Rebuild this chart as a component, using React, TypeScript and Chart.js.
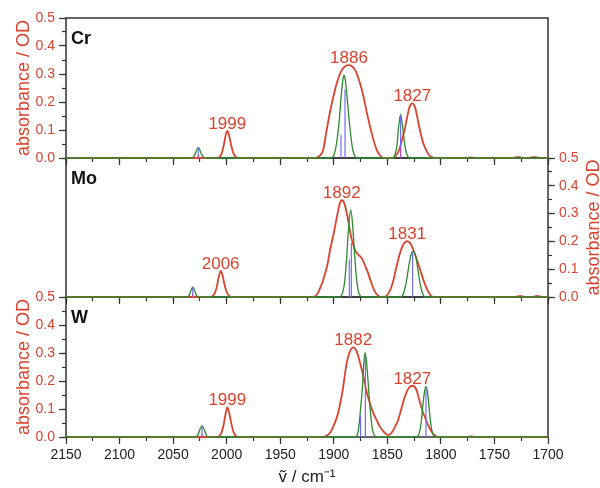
import React, { useEffect, useRef } from 'react';
import { Chart, registerables } from 'chart.js';

Chart.register(...registerables);

const FONT = '"Liberation Sans", Arial, Helvetica, sans-serif';
const RED = '#d9432f';
const GREEN = '#2e8b2e';
const BLUE = '#6e6ef2';
const PURPLE = '#b050c0';
const AXIS = '#333333';

const NU_MIN = 1700;
const NU_MAX = 2150;
const X_MAJOR = 50;
const X_MINOR = 25;
const Y_MIN = 0;
const Y_MAX = 0.5;
const Y_MAJOR = 0.1;
const Y_MINOR = 0.05;

const Y_TITLE = 'absorbance / OD';
const X_TITLE = 'ṽ / cm⁻¹';

// ---------- Cr ----------
const crRedNu = [2150, 2010, 2007, 2005, 2003, 2001, 1999.4, 1998, 1996, 1994, 1992, 1990, 1987,
  1918, 1914, 1911.5, 1909.8, 1907.3, 1903.5, 1900, 1897, 1892, 1886, 1880, 1875.5, 1872, 1869.3, 1864.6, 1860, 1857, 1853.5,
  1846, 1843, 1840, 1838, 1836, 1834, 1831, 1829, 1826.7, 1824, 1822, 1819.5, 1817, 1814, 1811, 1808, 1805,
  1776, 1772, 1768, 1732, 1728, 1724, 1717, 1713, 1709, 1700];
const crRedAbs = [0, 0, 0.003, 0.013, 0.04, 0.08, 0.097, 0.085, 0.05, 0.02, 0.006, 0.001, 0,
  0, 0.005, 0.015, 0.03, 0.085, 0.165, 0.225, 0.27, 0.317, 0.332, 0.314, 0.267, 0.215, 0.165, 0.088, 0.03, 0.01, 0,
  0, 0.005, 0.02, 0.04, 0.07, 0.098, 0.155, 0.185, 0.195, 0.18, 0.145, 0.098, 0.06, 0.03, 0.01, 0.002, 0,
  0, 0.002, 0, 0, 0.004, 0, 0, 0.004, 0, 0];
const crGreenNu = [2150, 2033, 2031, 2029, 2027.5, 2026.5, 2025.5, 2024, 2022, 2020,
  1903, 1900, 1897.5, 1895, 1893, 1891.5, 1890.5, 1889.5, 1888, 1886, 1884, 1882, 1880, 1878,
  1845, 1843, 1841, 1839.5, 1837.6, 1836, 1834, 1832, 1830, 1828, 1700];
const crGreenAbs = [0, 0, 0.004, 0.018, 0.033, 0.037, 0.033, 0.018, 0.004, 0,
  0, 0.01, 0.05, 0.13, 0.225, 0.28, 0.296, 0.285, 0.235, 0.15, 0.075, 0.025, 0.005, 0,
  0, 0.01, 0.045, 0.11, 0.156, 0.12, 0.055, 0.015, 0.002, 0, 0];
const crStickNu = [2026.5, 1893.3, 1889.5, 1837.6];
const crStickAbs = [0.036, 0.082, 0.245, 0.152];
const crStick2Nu = [2026.5, 1837.6];
const crStick2Abs = [0.012, 0.04];
const crLabelNu = [1999.4, 1885.8, 1826.7];
const crLabelAbs = [0.097, 0.332, 0.195];
const crLabelText = ['1999', '1886', '1827'];

// ---------- Mo ----------
const moRedNu = [2150, 2016, 2013, 2011, 2009, 2007.5, 2005.6, 2004, 2002, 2000, 1998, 1995,
  1919, 1916, 1913.5, 1910, 1906, 1903.5, 1900, 1897, 1894.5, 1892.6, 1890, 1887, 1884, 1880, 1877, 1874, 1871, 1868.5, 1865, 1862, 1859, 1856,
  1853, 1850, 1847, 1844, 1842, 1838, 1835, 1831.4, 1828, 1824, 1819.5, 1816, 1813, 1810, 1807,
  1730, 1726, 1722, 1714, 1710, 1706, 1700];
const moRedAbs = [0, 0, 0.004, 0.015, 0.04, 0.07, 0.094, 0.08, 0.045, 0.018, 0.005, 0,
  0, 0.008, 0.025, 0.06, 0.115, 0.168, 0.23, 0.29, 0.335, 0.348, 0.335, 0.285, 0.22, 0.168, 0.152, 0.14, 0.115, 0.092, 0.052, 0.022, 0.006, 0,
  0, 0.008, 0.028, 0.065, 0.1, 0.16, 0.19, 0.201, 0.19, 0.152, 0.1, 0.058, 0.028, 0.008, 0,
  0, 0.004, 0, 0, 0.004, 0, 0];
const moGreenNu = [2150, 2037, 2035, 2033.5, 2032.5, 2031.7, 2030.8, 2029.8, 2028.3, 2026,
  1895, 1892, 1890, 1888, 1886, 1884.2, 1882.5, 1881, 1879, 1877, 1875, 1873,
  1838, 1835, 1832.5, 1830, 1828, 1825.8, 1823.5, 1821.5, 1819.5, 1817, 1814.5, 1700];
const moGreenAbs = [0, 0, 0.006, 0.022, 0.031, 0.035, 0.031, 0.022, 0.006, 0,
  0, 0.012, 0.05, 0.14, 0.26, 0.313, 0.265, 0.18, 0.075, 0.02, 0.003, 0,
  0, 0.012, 0.05, 0.11, 0.15, 0.164, 0.145, 0.1, 0.05, 0.012, 0, 0];
const moStickNu = [2031.7, 1885.5, 1883.6, 1826.4];
const moStickAbs = [0.033, 0.135, 0.194, 0.16];
const moStick2Nu = [2031.7];
const moStick2Abs = [0.012];
const moLabelNu = [2005.6, 1892.6, 1831.4];
const moLabelAbs = [0.094, 0.348, 0.201];
const moLabelText = ['2006', '1892', '1831'];

// ---------- W ----------
const wRedNu = [2150, 2009, 2007, 2005, 2003, 2001, 1999.4, 1998, 1996, 1994, 1992, 1990, 1988,
  1910, 1906, 1903, 1900.5, 1896, 1892, 1888, 1885, 1881.8, 1878.5, 1875.5, 1872, 1869.3, 1866, 1863, 1860, 1857, 1853, 1849,
  1846, 1842.8, 1840, 1837.6, 1834, 1830, 1826.7, 1823, 1820, 1817, 1814, 1811, 1808, 1805, 1802,
  1776, 1772, 1768, 1700];
const wRedAbs = [0, 0, 0.003, 0.014, 0.04, 0.083, 0.106, 0.092, 0.055, 0.022, 0.006, 0.001, 0,
  0, 0.006, 0.018, 0.037, 0.085, 0.16, 0.263, 0.305, 0.32, 0.305, 0.265, 0.21, 0.16, 0.118, 0.085, 0.06, 0.037, 0.017, 0.007,
  0.015, 0.037, 0.06, 0.091, 0.14, 0.175, 0.183, 0.17, 0.13, 0.091, 0.062, 0.035, 0.015, 0.004, 0,
  0, 0.002, 0, 0];
const wGreenNu = [2150, 2029, 2027, 2025.5, 2024, 2023, 2022, 2020.5, 2019, 2017,
  1880, 1878, 1876.5, 1875, 1873.4, 1872, 1870.8, 1869.5, 1868, 1866.5, 1865, 1863.5, 1861.5, 1860,
  1823, 1821, 1819.5, 1818, 1816.5, 1815, 1813.9, 1812.8, 1811.5, 1810, 1808.5, 1807, 1805, 1700];
const wGreenAbs = [0, 0, 0.006, 0.022, 0.035, 0.04, 0.035, 0.022, 0.006, 0,
  0, 0.008, 0.04, 0.1, 0.17, 0.26, 0.301, 0.27, 0.2, 0.12, 0.06, 0.02, 0.003, 0,
  0, 0.006, 0.025, 0.065, 0.125, 0.168, 0.18, 0.168, 0.125, 0.065, 0.025, 0.006, 0, 0];
const wStickNu = [2023, 1875, 1870.5, 1813.9];
const wStickAbs = [0.038, 0.078, 0.29, 0.172];
const wStick2Nu = [2023];
const wStick2Abs = [0.012];
const wLabelNu = [1999.4, 1881.8, 1826.7];
const wLabelAbs = [0.106, 0.32, 0.183];
const wLabelText = ['1999', '1882', '1827'];

// ---------- helpers ----------
function toLine(nu: number[], abs: number[]) {
  return nu.map((x, i) => ({ x, y: abs[i] }));
}
function toSticks(nu: number[], abs: number[]) {
  const out: any[] = [];
  nu.forEach((x, i) => {
    out.push({ x, y: 0 }, { x, y: abs[i] }, { x, y: null });
  });
  return out;
}

type Panel = {
  name: string;
  redNu: number[]; redAbs: number[];
  greenNu: number[]; greenAbs: number[];
  stickNu: number[]; stickAbs: number[];
  stick2Nu: number[]; stick2Abs: number[];
  labelNu: number[]; labelAbs: number[]; labelText: string[];
  yPos: 'left' | 'right';
  showXLabels: boolean;
  padding: { top: number; bottom: number; left: number; right: number };
  xHeight: number;
  yWidth: number;
};

const panels: Panel[] = [
  {
    name: 'W', redNu: wRedNu, redAbs: wRedAbs, greenNu: wGreenNu, greenAbs: wGreenAbs,
    stickNu: wStickNu, stickAbs: wStickAbs, stick2Nu: wStick2Nu, stick2Abs: wStick2Abs,
    labelNu: wLabelNu, labelAbs: wLabelAbs, labelText: wLabelText,
    yPos: 'left', showXLabels: true,
    padding: { top: 297, bottom: 0, left: 0, right: 52 }, xHeight: 51, yWidth: 66,
  },
  {
    name: 'Mo', redNu: moRedNu, redAbs: moRedAbs, greenNu: moGreenNu, greenAbs: moGreenAbs,
    stickNu: moStickNu, stickAbs: moStickAbs, stick2Nu: moStick2Nu, stick2Abs: moStick2Abs,
    labelNu: moLabelNu, labelAbs: moLabelAbs, labelText: moLabelText,
    yPos: 'right', showXLabels: false,
    padding: { top: 158, bottom: 181, left: 66, right: 0 }, xHeight: 10, yWidth: 52,
  },
  {
    name: 'Cr', redNu: crRedNu, redAbs: crRedAbs, greenNu: crGreenNu, greenAbs: crGreenAbs,
    stickNu: crStickNu, stickAbs: crStickAbs, stick2Nu: crStick2Nu, stick2Abs: crStick2Abs,
    labelNu: crLabelNu, labelAbs: crLabelAbs, labelText: crLabelText,
    yPos: 'left', showXLabels: false,
    padding: { top: 18, bottom: 320, left: 0, right: 52 }, xHeight: 10, yWidth: 66,
  },
];

function makePlugin(p: Panel) {
  return {
    id: 'panelDecor' + p.name,
    beforeDatasetsDraw(chart: any) {
      const { ctx, chartArea: a } = chart;
      ctx.save();
      ctx.strokeStyle = AXIS;
      ctx.lineWidth = 1.5;
      ctx.strokeRect(a.left, a.top, a.right - a.left, a.bottom - a.top);
      ctx.restore();
    },
    afterDatasetsDraw(chart: any) {
      const { ctx, chartArea: a, scales } = chart;
      const xs = scales.x;
      const ys = scales.y;
      ctx.save();
      ctx.fillStyle = RED;
      ctx.font = `17px ${FONT}`;
      ctx.textAlign = 'center';
      ctx.textBaseline = 'alphabetic';
      p.labelNu.forEach((nu, i) => {
        ctx.fillText(p.labelText[i], xs.getPixelForValue(nu), ys.getPixelForValue(p.labelAbs[i]) - 2);
      });
      ctx.fillStyle = '#111';
      ctx.font = `bold 18px ${FONT}`;
      ctx.textAlign = 'left';
      ctx.fillText(p.name, a.left + 5, a.top + 26);
      if (p.yPos === 'right') {
        ctx.translate(594, (a.top + a.bottom) / 2);
        ctx.rotate(-Math.PI / 2);
        ctx.fillStyle = RED;
        ctx.font = `18px ${FONT}`;
        ctx.textAlign = 'center';
        ctx.textBaseline = 'middle';
        ctx.fillText(Y_TITLE, 0, 0);
      }
      ctx.restore();
    },
  };
}

function buildConfig(p: Panel): any {
  const lineBase = { pointRadius: 0, pointHoverRadius: 0, fill: false, clip: false };
  const datasets = [
    { ...lineBase, label: 'experiment', data: toLine(p.redNu, p.redAbs), borderColor: RED, borderWidth: 1.8, cubicInterpolationMode: 'monotone', order: 4 },
    { ...lineBase, label: 'calculated', data: toLine(p.greenNu, p.greenAbs), borderColor: GREEN, borderWidth: 1.3, cubicInterpolationMode: 'monotone', order: 3 },
    { ...lineBase, label: 'modes', data: toSticks(p.stickNu, p.stickAbs), borderColor: BLUE, borderWidth: 1.2, tension: 0, spanGaps: false, order: 2 },
    { ...lineBase, label: 'modes2', data: toSticks(p.stick2Nu, p.stick2Abs), borderColor: PURPLE, borderWidth: 1.2, tension: 0, spanGaps: false, order: 1 },
  ];
  const tickFont = { family: FONT, size: 14 };
  return {
    type: 'line',
    data: { datasets },
    plugins: [makePlugin(p)],
    options: {
      responsive: false,
      animation: false,
      devicePixelRatio: 1,
      events: [],
      layout: { padding: p.padding },
      plugins: { legend: { display: false }, tooltip: { enabled: false } },
      scales: {
        x: {
          type: 'linear', min: NU_MIN, max: NU_MAX, reverse: true, position: 'bottom', weight: 1,
          ticks: {
            display: p.showXLabels, stepSize: X_MAJOR, autoSkip: false, maxRotation: 0, color: '#222',
            font: tickFont, padding: 3, callback: (v: any) => String(v),
          },
          grid: { display: true, drawOnChartArea: false, drawTicks: true, tickLength: 7, tickColor: AXIS, tickWidth: 1.2 },
          border: { display: false },
          title: p.showXLabels
            ? { display: true, text: X_TITLE, color: '#222', font: { family: FONT, size: 17 }, padding: { top: 0, bottom: 0 } }
            : { display: false },
          afterFit: (s: any) => { s.height = p.xHeight; },
        },
        xm: {
          type: 'linear', min: NU_MIN, max: NU_MAX, reverse: true, position: 'bottom', weight: 0,
          ticks: { display: false, stepSize: X_MINOR, autoSkip: false },
          grid: { display: true, drawOnChartArea: false, drawTicks: true, tickLength: 4, tickColor: AXIS, tickWidth: 1.2 },
          border: { display: false },
          afterFit: (s: any) => { s.height = 0; },
        },
        y: {
          type: 'linear', min: Y_MIN, max: Y_MAX, position: p.yPos, weight: 1,
          ticks: {
            stepSize: Y_MAJOR, autoSkip: false, color: RED, font: tickFont, padding: 4,
            callback: (v: any) => (Math.round(Number(v) * 10) / 10).toFixed(1),
          },
          grid: { display: true, drawOnChartArea: false, drawTicks: true, tickLength: 7, tickColor: AXIS, tickWidth: 1.2 },
          border: { display: false },
          title: p.yPos === 'left'
            ? { display: true, text: Y_TITLE, color: RED, font: { family: FONT, size: 18 }, padding: { top: 13, bottom: 0 } }
            : { display: false },
          afterFit: (s: any) => { s.width = p.yWidth; },
        },
        ym: {
          type: 'linear', min: Y_MIN, max: Y_MAX, position: p.yPos, weight: 0,
          ticks: { display: false, stepSize: Y_MINOR, autoSkip: false },
          grid: { display: true, drawOnChartArea: false, drawTicks: true, tickLength: 4, tickColor: AXIS, tickWidth: 1.2 },
          border: { display: false },
          afterFit: (s: any) => { s.width = 0; },
        },
      },
    },
  };
}

function PanelCanvas({ panel }: { panel: Panel }) {
  const ref = useRef<HTMLCanvasElement | null>(null);
  useEffect(() => {
    if (!ref.current) return;
    const chart = new Chart(ref.current, buildConfig(panel));
    return () => chart.destroy();
  }, [panel]);
  return (
    <canvas
      ref={ref}
      width={600}
      height={488}
      style={{ position: 'absolute', left: 0, top: 0, width: 600, height: 488 }}
    />
  );
}

export default function App() {
  return (
    <div style={{ position: 'fixed', left: 0, top: 0, width: 600, height: 488, background: '#ffffff', overflow: 'hidden' }}>
      {panels.map((p) => (
        <PanelCanvas key={p.name} panel={p} />
      ))}
    </div>
  );
}
